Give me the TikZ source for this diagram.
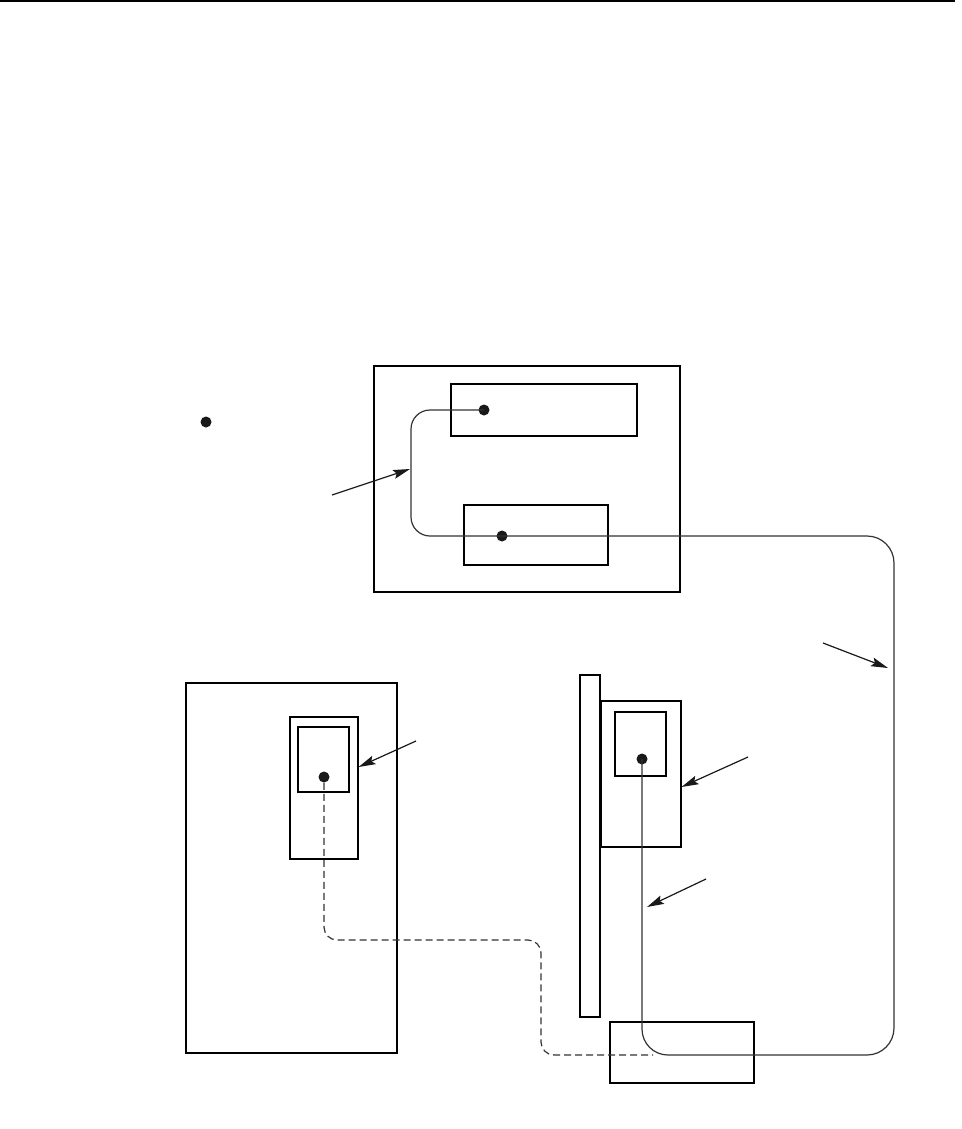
\documentclass[tikz,border=0pt]{standalone}
\usetikzlibrary{positioning,arrows.meta}

\begin{document}
\begin{tikzpicture}[x=0.5pt,y=-0.5pt,%
  % common options for the boxes:
  box/.style = {draw, line width=0.55pt, inner sep=0, minimum width=#1},
  frame/.style = {draw, line width=1.2pt, inner sep=0, minimum width=#1},
  % common options for the dots:
  dot/.style = {circle, fill=black!90, inner sep=0, minimum size=5.5pt},
  % wires and pointers
  wire/.style = {draw=black!80, line width=0.6pt},
  pointer/.style = {draw=black!90, line width=0.6pt,
              -{Stealth[length=8.5pt,width=4.5pt,inset=1.5pt]}}]

\useasboundingbox (0,0) rectangle (962,1129);

% rule at the top
\draw[line width=1pt] (0,1) -- (955,1);

% lone dot
\node[dot] (lone) at (206,422) {};

% upper unit with its two slots
\node[frame=153pt,minimum height=113pt] (unitA) at (527,479) {};
\node[box=93pt,minimum height=26pt] (slotA1) at (544,410) {};
\node[box=72pt,minimum height=30pt] (slotA2) at (536,535) {};
\node[dot] (dotA1) at (484,410) {};
\node[dot] (dotA2) at (502,536) {};

% left unit
\node[frame=105.5pt,minimum height=185pt] (unitL) at (291.5,868) {};
\node[box=34pt,minimum height=71pt] (slotL1) at (324,788) {};
\node[box=25.5pt,minimum height=32.5pt] (slotL2) at (323.5,759.5) {};
\node[dot] (dotL) at (324,777) {};

% right unit with bar and base
\node[box=10pt,minimum height=171pt] (bar) at (590,846) {};
\node[box=40pt,minimum height=73pt] (slotR1) at (641,774) {};
\node[box=25.5pt,minimum height=32pt] (slotR2) at (640.5,744) {};
\node[dot] (dotR) at (642,759) {};
\node[box=72pt,minimum height=30.5pt] (base) at (682,1052.5) {};

% bend points of the wires
\coordinate (bendL) at (411,536);
\coordinate (bendR) at (894,536);
\coordinate (bendB) at (894,1055);
\coordinate (dashA) at (324,940);
\coordinate (dashB) at (541,940);
\coordinate (dashC) at (541,1055);
\coordinate (dashEnd) at (653,1055);

% solid wire from the upper unit to the right unit
\draw[wire,rounded corners=9.5pt] (dotA1.center) -| (bendL) -- (dotA2.center)
   [rounded corners=13.5pt] -- (bendR) -- (bendB)
   [rounded corners=13pt] -- (dotR.center |- bendB) -- (dotR.center);

% dashed wire from the left unit to the base
\draw[wire,dashed,dash pattern=on 3.5pt off 2pt,rounded corners=6.5pt]
   (dotL.south) -- (dashA) -- (dashB) -- (dashC) -- (dashEnd);

% free ends of the pointers
\coordinate (tailA) at (332,495);
\coordinate (tailW) at (823,643);
\coordinate (tailR1) at (748,757);
\coordinate (tailR2) at (706,879);
\coordinate (tailL) at (416,741);

% pointers
\draw[pointer] (tailA) -- (410,469);
\draw[pointer] (tailW) -- (888,668);
\draw[pointer] (tailR1) -- (slotR1.east |- 0,787);
\draw[pointer] (tailR2) -- (647,907);
\draw[pointer] (tailL) -- (slotL1.east |- 0,767);
\end{tikzpicture}
\end{document}
